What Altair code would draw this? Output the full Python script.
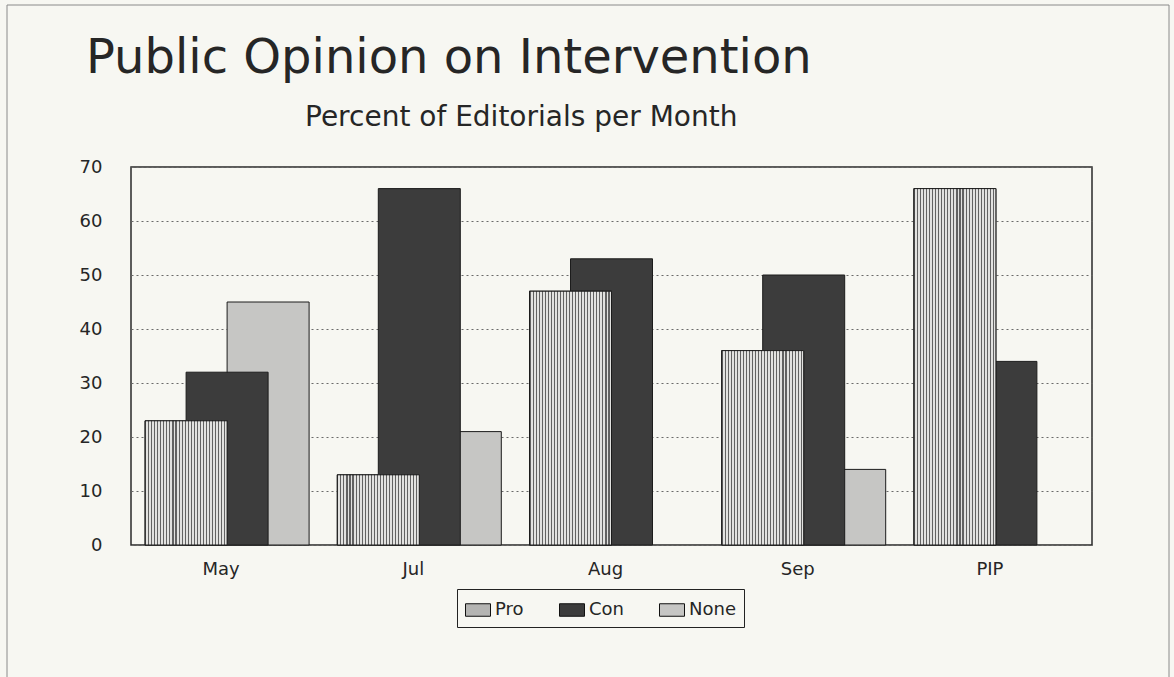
import altair as alt
import pandas as pd

# Share of editorials (percent) by stance for each period
months = ["May", "Jul", "Aug", "Sep", "PIP"]
stances = ["Pro", "Con", "None"]
pro_pct = [23, 13, 47, 36, 66]
con_pct = [32, 66, 53, 50, 34]
none_pct = [45, 21, None, 14, None]

title_text = "Public Opinion on Intervention"
subtitle_text = "Percent of Editorials per Month"

# Rows are ordered back-to-front so Pro sits on top of Con, which sits on top of None
rows = []
for stance, vals in (("None", none_pct), ("Con", con_pct), ("Pro", pro_pct)):
    for m, v in zip(months, vals):
        if v is not None:
            rows.append({"month": m, "stance": stance, "pct": v})
df = pd.DataFrame(rows)

BG = "#f7f7f2"
FONT = "DejaVu Sans"
INK = "#262626"
BAR_W = 82  # each bar spans two offset slots, so neighbours overlap by half

# Fine vertical hatching for the Pro bars, built as a hard-stop linear gradient
stripe_dark, stripe_light = "#626262", "#e2e2e0"
n_stripes = 27
stops = []
for i in range(n_stripes):
    a = round(i / n_stripes, 5)
    b = round((i + 0.36) / n_stripes, 5)
    c = round((i + 1) / n_stripes, 5)
    stops += [
        alt.GradientStop(offset=a, color=stripe_dark),
        alt.GradientStop(offset=b, color=stripe_dark),
        alt.GradientStop(offset=b, color=stripe_light),
        alt.GradientStop(offset=c, color=stripe_light),
    ]
hatch = alt.LinearGradient(gradient="linear", stops=stops, x1=0, x2=1, y1=0, y2=0)

x_enc = alt.X(
    "month:N",
    sort=months,
    scale=alt.Scale(paddingInner=0, paddingOuter=0),
    axis=alt.Axis(
        title=None, labelAngle=0, ticks=False, domain=False, grid=False,
        labelPadding=15, labelFontSize=18, labelFont=FONT, labelColor=INK,
        labelOffset=-6,
    ),
)
xoff_enc = alt.XOffset(
    "stance:N",
    sort=stances,
    scale=alt.Scale(domain=stances, paddingInner=0, paddingOuter=0.844),
)
y_enc = alt.Y(
    "pct:Q",
    stack=None,
    scale=alt.Scale(domain=[0, 70], nice=False),
    axis=alt.Axis(
        title=None, values=list(range(0, 71, 10)), ticks=False, domain=False,
        labelPadding=29, labelFontSize=18, labelFont=FONT, labelColor=INK,
        grid=True, gridDash=[2, 3], gridColor="#6a6a6a", gridWidth=1,
    ),
)

bars = alt.Chart(df).mark_bar(
    width=BAR_W, stroke="#1c1c1c", strokeWidth=1
).encode(
    x=x_enc,
    xOffset=xoff_enc,
    y=y_enc,
    color=alt.Color(
        "stance:N",
        sort=stances,
        scale=alt.Scale(domain=stances, range=["#b4b4b2", "#3c3c3c", "#c6c6c4"]),
        legend=alt.Legend(
            title=None, orient="none", legendX=326, legendY=422,
            direction="horizontal", columnPadding=33, padding=8,
            strokeColor="#222222", fillColor=BG,
            symbolType="M-1,-0.5H1V0.5H-1Z", symbolSize=625,
            symbolStrokeColor="#111111", symbolStrokeWidth=1, symbolOpacity=1,
            labelFont=FONT, labelFontSize=18, labelColor=INK, labelOffset=4,
        ),
    ),
)

pro_bars = alt.Chart(df[df["stance"] == "Pro"]).mark_bar(
    width=BAR_W, fill=hatch, stroke="#1c1c1c", strokeWidth=1
).encode(x=x_enc, xOffset=xoff_enc, y=y_enc)

title = alt.Chart(pd.DataFrame({"t": [title_text]})).mark_text(
    align="left", baseline="alphabetic", font=FONT, fontSize=48, color=INK
).encode(text="t:N", x=alt.value(-45), y=alt.value(-94))

subtitle = alt.Chart(pd.DataFrame({"t": [subtitle_text]})).mark_text(
    align="left", baseline="alphabetic", font=FONT, fontSize=28, color=INK
).encode(text="t:N", x=alt.value(174), y=alt.value(-41))

# Thin outer frame around the whole figure
frame = alt.Chart(pd.DataFrame({"k": [0]})).mark_rect(
    fill=None, stroke="#8a8a8a", strokeWidth=1
).encode(
    x=alt.value(-124), x2=alt.value(1038), y=alt.value(-162), y2=alt.value(520)
)

chart = alt.layer(frame, bars, pro_bars, title, subtitle).properties(
    width=961,
    height=378,
    autosize=alt.AutoSizeParams(type="none"),
    padding={"left": 131, "top": 167, "right": 82, "bottom": 132},
    background=BG,
).configure_view(
    stroke="#2a2a2a", strokeWidth=1.5, fill=BG
)

chart.save("out.html", embed_options={"renderer": "svg", "actions": False})
